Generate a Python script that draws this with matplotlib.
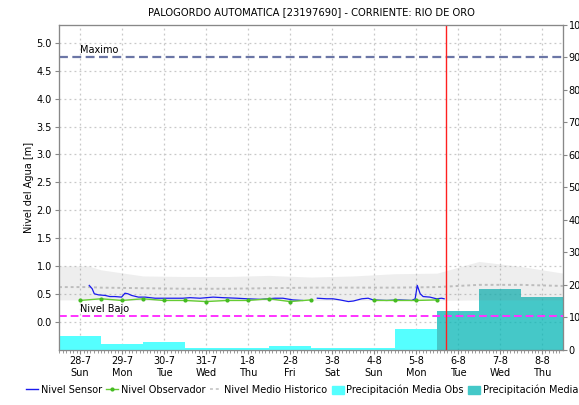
import numpy as np
import matplotlib
matplotlib.use("Agg")
import matplotlib.pyplot as plt
from matplotlib.lines import Line2D
from matplotlib.patches import Patch
from matplotlib.ticker import FixedLocator

plt.rcParams["font.family"] = ["DejaVu Sans"]

# dias (indice 0 = 28-7)
dias = ["28-7\nSun", "29-7\nMon", "30-7\nTue", "31-7\nWed", "1-8\nThu", "2-8\nFri",
        "3-8\nSat", "4-8\nSun", "5-8\nMon", "6-8\nTue", "7-8\nWed", "8-8\nThu"]

# nivel sensor [m]
t_sensor = [0.22, 0.29, 0.34, 0.44, 0.60, 0.71, 0.83, 0.99, 1.07, 1.14, 1.23, 1.39, 1.55,
            1.79, 2.02, 2.26, 2.45, 2.62, 2.86, 3.17, 3.40, 3.74, 3.98, 4.30, 4.64, 4.83,
            5.07, 5.30, 5.45, 5.65, 5.87, 6.02, 6.19, 6.39, 6.51, 6.71, 6.86, 6.98, 7.30,
            7.60, 7.90, 7.98, 8.03, 8.10, 8.17, 8.33, 8.49, 8.61, 8.67]
nivel_sensor = [0.65, 0.59, 0.50, 0.48, 0.47, 0.45, 0.45, 0.44, 0.51, 0.50, 0.47, 0.44, 0.44,
                0.42, 0.42, 0.42, 0.42, 0.43, 0.42, 0.44, 0.43, 0.42, 0.41, 0.40, 0.42, 0.42,
                0.39, 0.38, np.nan, 0.42, 0.41, 0.41, 0.39, 0.36, 0.37, 0.41, 0.42, 0.39, 0.38,
                0.39, 0.38, 0.41, 0.65, 0.50, 0.45, 0.44, 0.41, 0.42, 0.41]

# nivel observador [m]
t_obs = [0, 0.5, 1, 1.5, 2, 2.5, 3, 3.5, 4, 4.5, 5, 5.5, 6.2, 7, 7.5, 8, 8.5]
nivel_obs = [0.38, 0.41, 0.38, 0.41, 0.38, 0.38, 0.36, 0.38, 0.38, 0.41, 0.36, 0.39,
             np.nan, 0.38, 0.38, 0.38, 0.39]

# nivel medio historico y banda [m]
t_hist = [-0.5, 0.2, 0.5, 1.5, 2.5, 3.5, 4.5, 5.5, 6.5, 7.5, 8.5, 9.5, 10.5, 11.5]
nivel_medio = [0.62, 0.62, 0.61, 0.60, 0.59, 0.59, 0.60, 0.61, 0.61, 0.61, 0.62, 0.66, 0.66, 0.64]
banda_sup = [1.00, 1.00, 0.93, 0.82, 0.81, 0.81, 0.83, 0.80, 0.82, 0.86, 0.87, 1.08, 0.99, 0.87]
banda_inf = [0.39, 0.39, 0.39, 0.38, 0.38, 0.38, 0.38, 0.38, 0.38, 0.38, 0.38, 0.39, 0.39, 0.39]

# precipitacion [mm]
dia_obs = [0, 1, 2, 3, 4, 5, 6, 7, 8]
precip_obs = [4.3, 1.7, 2.4, 0.5, 0.4, 1.2, 0.5, 0.5, 6.2]
dia_pron = [9, 10, 11]
precip_pron = [11.7, 18.6, 16.1]

nivel_maximo = 4.75
nivel_bajo = 0.10
t_actual = 8.71

fig = plt.figure(figsize=(5.79, 4.05), dpi=100)
rect = [59 / 579, 0.137, 504 / 579, 0.8025]
ax = fig.add_axes(rect)
ax2 = ax.twinx()
ax3 = ax.twinx()
ax.set_zorder(1)
ax2.set_zorder(2)
ax3.set_zorder(3)
ax2.patch.set_visible(False)
ax3.patch.set_visible(False)

gris = "#888888"
for a in (ax, ax2, ax3):
    a.set_xlim(-0.5, 11.5)
    for s in a.spines.values():
        s.set_color(gris)

# eje izquierdo: grilla y niveles
ax.set_ylim(-0.5, 5.33)
ax.set_yticks(np.arange(0, 5.01, 0.5))
ax.set_yticklabels([f"{v:.1f}" for v in np.arange(0, 5.01, 0.5)])
ax.set_xticks(range(len(dias)))
ax.set_xticklabels(dias)
ax.xaxis.set_minor_locator(FixedLocator(np.arange(-0.5, 11.5, 1 / 12)))
ax.tick_params(axis="both", labelsize=7, length=3, color=gris, pad=2)
ax.tick_params(axis="x", which="minor", length=2, color=gris)
ax.grid(True, color="#c8c8c8", linestyle=(0, (1.5, 2.5)), linewidth=0.9)
ax.set_ylabel("Nivel del Agua [m]", fontsize=7, labelpad=2)
ax.set_title("PALOGORDO AUTOMATICA [23197690] - CORRIENTE: RIO DE ORO", fontsize=7.2, pad=7)

# eje derecho: precipitacion
ax2.set_ylim(0, 100)
ax2.set_yticks(range(0, 101, 10))
ax2.tick_params(axis="y", labelsize=7, length=3, color=gris, pad=1)
ax2.bar(dia_obs, precip_obs, width=1.0, color="#55ffff", linewidth=0)
ax2.bar(dia_pron, precip_pron, width=1.0, color="#06b6b6", alpha=0.75, linewidth=0)

# niveles por encima de las barras
ax3.set_ylim(ax.get_ylim())
ax3.set_yticks([])
ax3.tick_params(axis="both", length=0, labelleft=False, labelright=False, labelbottom=False)
ax3.fill_between(t_hist, banda_inf, banda_sup, color="#808080", alpha=0.13, linewidth=0)
ax3.plot(t_hist, nivel_medio, color="#bdbdbd", linestyle=(0, (1.5, 1.5)), linewidth=1.4)
ax3.axhline(nivel_maximo, color="#6b76a6", linestyle=(0, (4, 2)), linewidth=1.6)
ax3.axhline(nivel_bajo, color="#ff33ff", linestyle=(0, (4, 2)), linewidth=1.4)
ax3.plot(t_sensor, nivel_sensor, color="#1a1aee", linewidth=0.9)
ax3.plot(t_obs, nivel_obs, color="#66cc33", linewidth=1.0, marker="o", markersize=3,
         markerfacecolor="#44bb22", markeredgewidth=0)
ax3.axvline(t_actual, color="#ff2020", linewidth=1.0)
ax3.text(0, nivel_maximo + 0.03, "Maximo", fontsize=7, va="bottom", ha="left")
ax3.text(0, nivel_bajo + 0.03, "Nivel Bajo", fontsize=7, va="bottom", ha="left")

handles = [
    Line2D([], [], color="#1a1aee", linewidth=1),
    Line2D([], [], color="#66cc33", linewidth=1, marker="o", markersize=3,
           markerfacecolor="#44bb22", markeredgewidth=0),
    Line2D([], [], color="#cccccc", linestyle=(0, (1.5, 1.5)), linewidth=1.4),
    Patch(color="#55ffff"),
    Patch(color="#44c8c8"),
]
labels = ["Nivel Sensor", "Nivel Observador", "Nivel Medio Historico",
          "Precipitación Media Obs", "Precipitación Media"]
fig.legend(handles, labels, loc="center", bbox_to_anchor=(0.522, 0.037), ncol=5,
           frameon=False, fontsize=7, handlelength=1.2, handletextpad=0.3,
           columnspacing=0.45, handleheight=1.0, borderpad=0.2)

fig.savefig("out.png", dpi=100)
